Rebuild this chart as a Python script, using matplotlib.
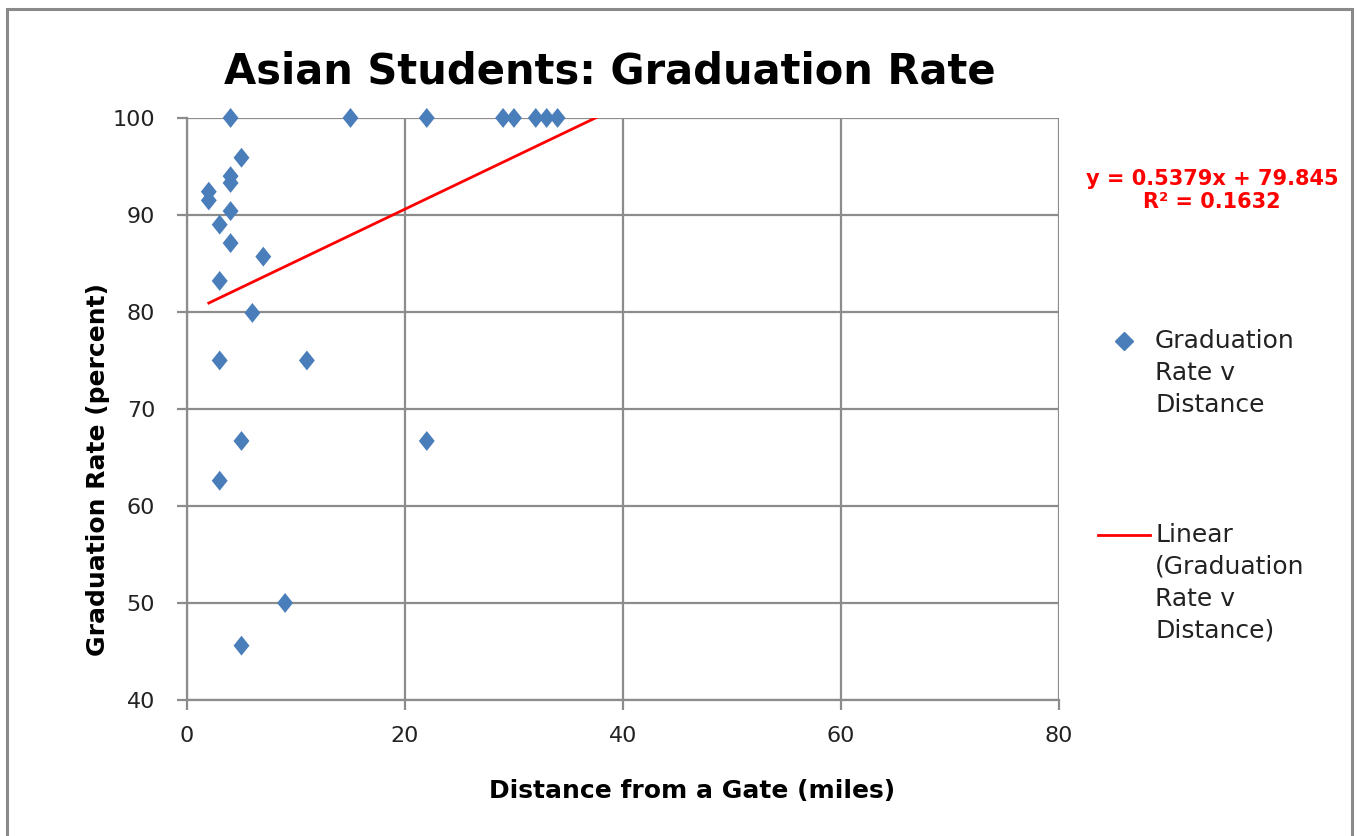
import matplotlib
matplotlib.use("Agg")
import numpy as np
import matplotlib.pyplot as plt
from matplotlib.lines import Line2D
from matplotlib.patches import Rectangle

# values
distance = [4, 15, 22, 29, 30, 32, 33, 34,
            5, 4, 4, 2, 2, 4, 3, 4, 7, 3, 6, 3, 11, 5, 22, 3, 9, 5]
grad_rate = [100, 100, 100, 100, 100, 100, 100, 100,
             95.9, 94.0, 93.3, 92.4, 91.5, 90.4, 89.0, 87.1, 85.7, 83.2,
             79.9, 75.0, 75.0, 66.7, 66.7, 62.6, 50.0, 45.6]

slope = 0.5379
intercept = 79.845
r_squared = 0.1632
trend_range = [2, 38]

x_ticks = [0, 20, 40, 60, 80]
y_ticks = [40, 50, 60, 70, 80, 90, 100]

FONT = ["DejaVu Sans"]
BLUE = "#4a7ebb"
GRID = "#8c8c8c"
# slightly tall diamond like the Excel marker
DIAMOND = [(0, 1), (0.8, 0), (0, -1), (-0.8, 0), (0, 1)]

fig = plt.figure(figsize=(13.59, 8.36), dpi=100)
ax = fig.add_axes([0.1376, 0.1627, 0.6416, 0.6962])

# outer chart border
fig.add_artist(Rectangle((7 / 1359, -0.05), 1345 / 1359, 1 - 9 / 836 + 0.05,
                         transform=fig.transFigure, fill=False,
                         edgecolor="#8a8a8a", linewidth=2.2))

ax.scatter(distance, grad_rate, marker=DIAMOND, s=205, color=BLUE,
           edgecolors="none", zorder=3, clip_on=False)

tx = np.array(trend_range, dtype=float)
ax.plot(tx, slope * tx + intercept, color="red", linewidth=2, zorder=2)

ax.set_xlim(0, 80)
ax.set_ylim(40, 100)
ax.set_xticks(x_ticks)
ax.set_yticks(y_ticks)
ax.grid(True, color=GRID, linewidth=1.6)
ax.set_axisbelow(True)
for s in ["top", "right"]:
    ax.spines[s].set_visible(False)
for s in ["left", "bottom"]:
    ax.spines[s].set_color(GRID)
    ax.spines[s].set_linewidth(1.6)
ax.tick_params(axis="y", length=7, width=1.6, color=GRID, pad=16)
ax.tick_params(axis="x", length=7, width=1.6, color=GRID, pad=12)
for lab in ax.get_xticklabels() + ax.get_yticklabels():
    lab.set_family(FONT)
    lab.set_fontsize(16)
    lab.set_color("#222222")

fig.text(0.449, 0.915, "Asian Students: Graduation Rate", ha="center",
         va="center", fontsize=30, fontweight="bold", family=FONT)
fig.text(0.072, 0.438, "Graduation Rate (percent)", ha="center", va="center",
         rotation=90, fontsize=18, fontweight="bold", family=FONT)
fig.text(0.509, 0.054, "Distance from a Gate (miles)", ha="center",
         va="center", fontsize=18, fontweight="bold", family=FONT)

# trendline equation
fig.text(0.892, 0.772, f"y = {slope}x + {intercept}\nR² = {r_squared}",
         ha="center", va="center", color="red", fontsize=15,
         fontweight="bold", family=FONT, linespacing=1.15)

# legend drawn by hand so the handle sits on the first text line
fig.add_artist(Line2D([1124 / 1359], [1 - 341 / 836], marker="D",
                      markersize=9, color=BLUE, linestyle="none",
                      transform=fig.transFigure))
fig.text(1155 / 1359, 1 - 329 / 836, "Graduation\nRate v\nDistance",
         ha="left", va="top", fontsize=18, family=FONT, linespacing=1.42,
         color="#222222")
fig.add_artist(Line2D([1098 / 1359, 1150 / 1359], [1 - 535 / 836] * 2,
                      color="red", linewidth=2, transform=fig.transFigure))
fig.text(1155 / 1359, 1 - 523 / 836,
         "Linear\n(Graduation\nRate v\nDistance)",
         ha="left", va="top", fontsize=18, family=FONT, linespacing=1.42,
         color="#222222")

fig.savefig("out.png", dpi=100)
